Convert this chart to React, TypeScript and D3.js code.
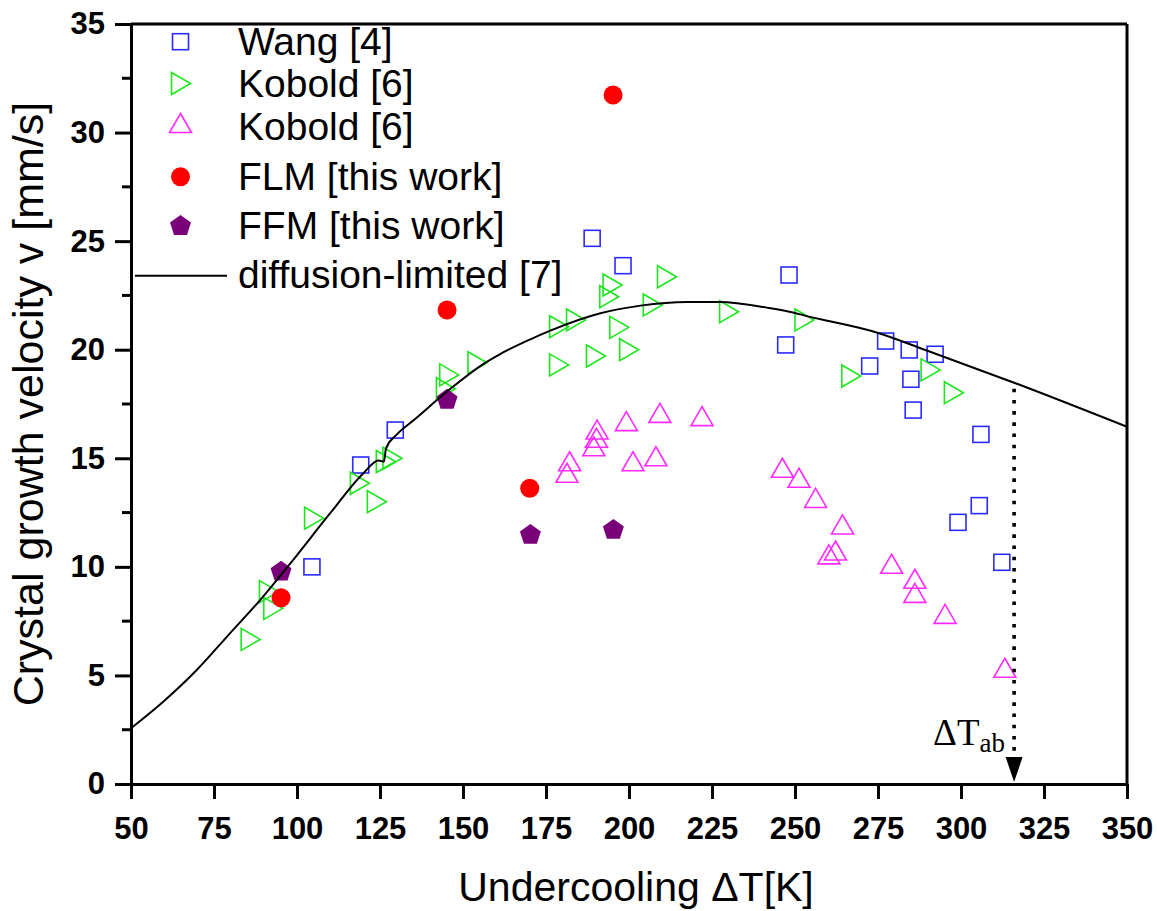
import React, { useEffect, useRef } from "react";
import * as d3 from "d3";

// Wang [4] - blue open squares
const wangData = [
  [104.5, 10.0], [119.2, 14.69], [129.6, 16.3], [188.9, 25.13], [198.2, 23.87],
  [248.2, 23.44], [247.2, 20.22], [272.5, 19.25], [277.3, 20.4], [284.4, 19.99],
  [284.9, 18.64], [285.6, 17.22], [292.2, 19.79], [306, 16.1], [305.5, 12.82],
  [299.1, 12.05], [312.3, 10.21],
];

// Kobold [6] - green right triangles
const koboldRight = [
  [85.9, 6.66], [91.4, 8.86], [92.7, 8.09], [105, 12.24], [118.8, 13.85],
  [123.9, 13.0], [126.6, 14.85], [128.6, 15.0], [144.7, 18.2], [145.7, 18.84],
  [154.2, 19.4], [178.8, 21.06], [183.9, 21.37], [178.8, 19.3], [189.9, 19.71],
  [193.9, 22.44], [194.9, 22.98], [196.9, 21.03], [199.9, 20.0], [207, 22.06],
  [211.3, 23.36], [230, 21.75], [252.7, 21.37], [266.8, 18.79], [290.7, 19.07],
  [297.7, 18.02],
];

// Kobold [6] - magenta up triangles
const koboldUp = [
  [181.3, 14.31], [182.1, 14.84], [189.4, 15.53], [190.2, 15.92], [190.4, 16.3],
  [199.2, 16.69], [201.2, 14.84], [208.1, 15.07], [209.3, 17.07], [222, 16.92],
  [246.2, 14.54], [251.2, 14.08], [256.2, 13.15], [260.2, 10.55], [262.2, 10.73],
  [264.3, 11.93], [279.1, 10.12], [286.1, 9.43], [286.1, 8.78], [295.2, 7.81],
  [313.2, 5.33],
];

// FLM [this work]
const flmData = [[95.2, 8.58], [145.2, 21.83], [170.1, 13.62], [195.2, 31.73]];

// FFM [this work]
const ffmData = [[95.2, 9.78], [145.2, 17.69], [170.3, 11.47], [195.3, 11.7]];

// diffusion-limited [7]
const diffusionCurve = [
  [50, 2.57], [59.7, 3.79], [69.8, 5.25], [79.8, 6.94], [88.9, 8.47], [98, 10.16],
  [110, 12.47], [120, 14.31], [124.5, 14.9], [126.2, 14.85], [126.8, 15.45],
  [130.1, 16.1], [135.1, 16.75], [146.2, 18.2], [156.2, 19.35], [161.2, 19.8],
  [170.3, 20.48], [176.3, 20.88], [191.4, 21.68], [203.5, 22.03], [217.5, 22.2],
  [227.6, 22.2], [233.6, 22.12], [241, 21.95], [249.7, 21.7], [252.7, 21.58],
  [275.3, 20.76], [289.9, 19.95], [316, 18.48], [350, 16.45],
];

const xTicks = [50, 75, 100, 125, 150, 175, 200, 225, 250, 275, 300, 325, 350];
const yTicks = [0, 5, 10, 15, 20, 25, 30, 35];
const yMinorTicks = [2.5, 7.5, 12.5, 17.5, 22.5, 27.5, 32.5];
const deltaTab = 316;

const legendItems = [
  { label: "Wang [4]", kind: "square" },
  { label: "Kobold [6]", kind: "right" },
  { label: "Kobold [6]", kind: "up" },
  { label: "FLM [this work]", kind: "circle" },
  { label: "FFM [this work]", kind: "pentagon" },
  { label: "diffusion-limited [7]", kind: "line" },
];

const SANS = "'Liberation Sans', Arial, sans-serif";

const pentagonPath = (r) =>
  d3.range(5).map((k) => {
    const a = -Math.PI / 2 + (k * 2 * Math.PI) / 5;
    return [r * Math.cos(a), r * Math.sin(a)];
  });

const drawMarker = (g, kind, cx, cy) => {
  if (kind === "square") {
    g.append("rect")
      .attr("x", cx - 8).attr("y", cy - 8)
      .attr("width", 16).attr("height", 16)
      .attr("fill", "none").attr("stroke", "#2b2bff").attr("stroke-width", 1.6);
  } else if (kind === "right") {
    g.append("path")
      .attr("d", `M${cx - 9},${cy - 11}L${cx + 10},${cy}L${cx - 9},${cy + 11}Z`)
      .attr("fill", "none").attr("stroke", "#1ee61e").attr("stroke-width", 1.6);
  } else if (kind === "up") {
    g.append("path")
      .attr("d", `M${cx},${cy - 10}L${cx + 11},${cy + 9}L${cx - 11},${cy + 9}Z`)
      .attr("fill", "none").attr("stroke", "#ff2bff").attr("stroke-width", 1.6);
  } else if (kind === "circle") {
    g.append("circle").attr("cx", cx).attr("cy", cy).attr("r", 9.5).attr("fill", "#ff0000");
  } else if (kind === "pentagon") {
    const pts = pentagonPath(11).map(([px, py]) => `${cx + px},${cy + py}`).join(" ");
    g.append("polygon").attr("points", pts).attr("fill", "#7a007a");
  }
};

const App = () => {
  const svgRef = useRef(null);

  useEffect(() => {
    const width = 1157;
    const height = 911;
    const margin = { top: 24, right: 30, bottom: 127, left: 131 };

    const svg = d3.select(svgRef.current);
    svg.selectAll("*").remove();

    const x = d3.scaleLinear().domain([50, 350]).range([margin.left, width - margin.right]);
    const y = d3.scaleLinear().domain([0, 35]).range([height - margin.bottom, margin.top]);

    // data markers
    const marks = svg.append("g");
    wangData.forEach(([a, b]) => drawMarker(marks, "square", x(a), y(b)));
    koboldRight.forEach(([a, b]) => drawMarker(marks, "right", x(a), y(b)));
    koboldUp.forEach(([a, b]) => drawMarker(marks, "up", x(a), y(b)));
    flmData.forEach(([a, b]) => drawMarker(marks, "circle", x(a), y(b)));
    ffmData.forEach(([a, b]) => drawMarker(marks, "pentagon", x(a), y(b)));

    // diffusion-limited curve
    const line = d3.line().x((d) => x(d[0])).y((d) => y(d[1])).curve(d3.curveMonotoneX);
    svg.append("path")
      .datum(diffusionCurve)
      .attr("fill", "none")
      .attr("stroke", "#000")
      .attr("stroke-width", 2)
      .attr("d", line);

    // Delta T_ab dotted arrow
    const tabY = y(18.48) + 6;
    svg.append("line")
      .attr("x1", x(deltaTab)).attr("x2", x(deltaTab))
      .attr("y1", tabY).attr("y2", y(0) - 26)
      .attr("stroke", "#000").attr("stroke-width", 3.6)
      .attr("stroke-dasharray", "3.6 7.6");
    svg.append("path")
      .attr("d", `M${x(deltaTab) - 8.5},${y(0) - 27}L${x(deltaTab) + 8.5},${y(0) - 27}L${x(deltaTab)},${y(0) - 2}Z`)
      .attr("fill", "#000");
    const tabLabel = svg.append("text")
      .attr("x", x(deltaTab) - 81)
      .attr("y", y(0) - 39)
      .attr("font-family", "'Liberation Serif', 'Times New Roman', serif")
      .attr("font-size", 37)
      .attr("fill", "#000");
    tabLabel.append("tspan").text("ΔT");
    tabLabel.append("tspan").attr("font-size", 27).attr("dy", 7).text("ab");

    // frame
    svg.append("line")
      .attr("x1", x(50)).attr("x2", x(350)).attr("y1", y(35)).attr("y2", y(35))
      .attr("stroke", "#000").attr("stroke-width", 3);
    svg.append("line")
      .attr("x1", x(350)).attr("x2", x(350)).attr("y1", y(35)).attr("y2", y(0))
      .attr("stroke", "#000").attr("stroke-width", 3);

    // x axis
    const xAxis = svg.append("g")
      .attr("transform", `translate(0, ${y(0)})`)
      .call(d3.axisBottom(x).tickValues(xTicks).tickSize(15).tickSizeOuter(0).tickPadding(18));
    xAxis.select(".domain").attr("stroke-width", 3);
    xAxis.selectAll(".tick line").attr("stroke-width", 3);
    xAxis.selectAll(".tick text")
      .attr("font-family", SANS).attr("font-size", 31).attr("font-weight", "bold");

    // y axis
    const yAxis = svg.append("g")
      .attr("transform", `translate(${x(50)}, 0)`)
      .call(d3.axisLeft(y).tickValues(yTicks).tickSize(16).tickSizeOuter(0).tickPadding(10));
    yAxis.select(".domain").attr("stroke-width", 3);
    yAxis.selectAll(".tick line").attr("stroke-width", 3);
    yAxis.selectAll(".tick text")
      .attr("font-family", SANS).attr("font-size", 31).attr("font-weight", "bold");
    yAxis.selectAll(".minor")
      .data(yMinorTicks)
      .enter()
      .append("line")
      .attr("x1", -9).attr("x2", 0)
      .attr("y1", (d) => y(d)).attr("y2", (d) => y(d))
      .attr("stroke", "#000").attr("stroke-width", 3);

    // axis titles
    svg.append("text")
      .attr("x", 636)
      .attr("y", 901)
      .attr("text-anchor", "middle")
      .attr("font-family", SANS)
      .attr("font-size", 41)
      .text("Undercooling ΔT[K]");
    svg.append("text")
      .attr("transform", `translate(43, ${(y(0) + y(35)) / 2}) rotate(-90)`)
      .attr("text-anchor", "middle")
      .attr("font-family", SANS)
      .attr("font-size", 43)
      .text("Crystal growth velocity v [mm/s]");

    // legend
    const legendRows = [41.7, 83.5, 123.5, 176.7, 226, 275.7];
    const legendBase = [55, 97.3, 140, 190, 239.3, 288.3];
    const legend = svg.append("g");
    legendItems.forEach((item, i) => {
      if (item.kind === "line") {
        legend.append("line")
          .attr("x1", 135).attr("x2", 227)
          .attr("y1", legendRows[i]).attr("y2", legendRows[i])
          .attr("stroke", "#000").attr("stroke-width", 2);
      } else {
        drawMarker(legend, item.kind, 180.5, legendRows[i]);
      }
      legend.append("text")
        .attr("x", 238)
        .attr("y", legendBase[i])
        .attr("font-family", SANS)
        .attr("font-size", 39)
        .text(item.label);
    });
  }, []);

  return (
    <svg
      ref={svgRef}
      width={1157}
      height={911}
      style={{ position: "absolute", left: 0, top: 0, background: "#fff" }}
    />
  );
};

export default App;
